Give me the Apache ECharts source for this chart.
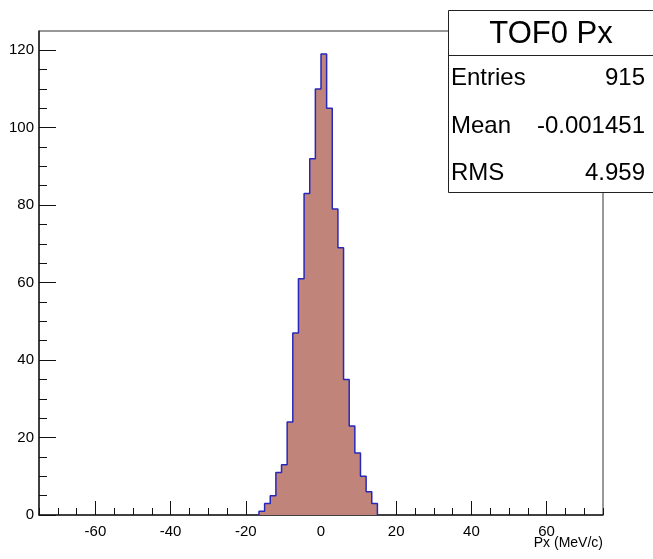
<!DOCTYPE html>
<html><head><meta charset="utf-8">
<script src="https://cdn.jsdelivr.net/npm/echarts@6/dist/echarts.min.js"></script>
<style>html,body{margin:0;padding:0;background:#fff}#c{width:653px;height:559px}</style>
</head><body><div id="c"></div>
<script>
// ---- data ----
const binLowEdge = -16.5;
const binWidth = 1.5;
const counts = [1, 3, 5, 11, 13, 24, 47, 61, 83, 92, 110, 119, 105, 79, 69, 35, 23, 16, 10, 6, 3];
const xRange = [-75, 75];
const yMax = 124.95;
const xMajorTicks = [-60, -40, -20, 0, 20, 40, 60];
const yMajorTicks = [0, 20, 40, 60, 80, 100, 120];
const minorStep = 5;
const xAxisTitle = 'Px (MeV/c)';
const statsTitle = 'TOF0 Px';
const statsLabels = ['Entries', 'Mean', 'RMS'];
const statsValues = ['915', '-0.001451', '4.959'];

// ---- build ----
function minorTicks(lo, hi, majors) {
  const out = [];
  for (let v = lo; v <= hi + 1e-9; v += minorStep) if (majors.indexOf(v) < 0) out.push(v);
  return out;
}
const xMinorTicks = minorTicks(xRange[0], xRange[1], xMajorTicks);
const yMinorTicks = minorTicks(0, yMax, yMajorTicks);

const pts = [[binLowEdge, 0]];
counts.forEach((c, i) => pts.push([binLowEdge + (i + 1) * binWidth, c]));
pts.push([binLowEdge + counts.length * binWidth, 0]);

const FONT = "'Liberation Sans', Arial, sans-serif";
const chart = echarts.init(document.getElementById('c'), null, {renderer: 'canvas'});

const box = {x: 448, y: 10, w: 210, h: 182, sep: 55};
const rowY = [78, 126, 173];
const graphics = [
  {type: 'rect', z: 100, shape: {x: box.x + 0.5, y: box.y + 0.5, width: box.w, height: box.h},
   style: {fill: '#fff', stroke: '#222', lineWidth: 1}},
  {type: 'line', z: 101, shape: {x1: box.x, y1: box.sep + 0.5, x2: box.x + box.w, y2: box.sep + 0.5},
   style: {stroke: '#222', lineWidth: 1}},
  {type: 'text', z: 102, style: {text: statsTitle, x: 551, y: 34, align: 'center', verticalAlign: 'middle',
   fontSize: 31, fontFamily: FONT, fill: '#000'}},
  {type: 'text', z: 10, style: {text: xAxisTitle, x: 603, y: 543, align: 'right', verticalAlign: 'middle',
   fontSize: 14, fontFamily: FONT, fill: '#000'}}
];
statsLabels.forEach((t, i) => {
  graphics.push({type: 'text', z: 102, style: {text: t, x: 451, y: rowY[i], align: 'left', verticalAlign: 'middle',
    fontSize: 24, fontFamily: FONT, fill: '#000'}});
  graphics.push({type: 'text', z: 102, style: {text: statsValues[i], x: 645, y: rowY[i], align: 'right', verticalAlign: 'middle',
    fontSize: 24, fontFamily: FONT, fill: '#000'}});
});

const axisLineStyle = {show: true, onZero: false, lineStyle: {color: '#222', width: 1.5}};
const noLine = {show: false, onZero: false};
chart.setOption({
  animation: false,
  backgroundColor: '#fff',
  grid: {left: 39, right: 50, top: 31, bottom: 44, show: true, borderColor: '#333', borderWidth: 1,
         containLabel: false, outerBoundsMode: 'none'},
  xAxis: [
    {type: 'value', min: xRange[0], max: xRange[1], position: 'bottom', axisLine: axisLineStyle,
     axisTick: {show: true, inside: true, length: 14, customValues: xMajorTicks, lineStyle: {color: '#111', width: 1}},
     axisLabel: {customValues: xMajorTicks, fontSize: 15, color: '#000', margin: 9, fontFamily: FONT},
     splitLine: {show: false}},
    {type: 'value', min: xRange[0], max: xRange[1], position: 'bottom', axisLine: noLine,
     axisTick: {show: true, inside: true, length: 7, customValues: xMinorTicks, lineStyle: {color: '#111', width: 1}},
     axisLabel: {show: false}, splitLine: {show: false}}
  ],
  yAxis: [
    {type: 'value', min: 0, max: yMax, position: 'left', axisLine: axisLineStyle,
     axisTick: {show: true, inside: true, length: 17, customValues: yMajorTicks, lineStyle: {color: '#111', width: 1}},
     axisLabel: {customValues: yMajorTicks, fontSize: 15, color: '#000', margin: 5, fontFamily: FONT},
     splitLine: {show: false}},
    {type: 'value', min: 0, max: yMax, position: 'left', axisLine: noLine,
     axisTick: {show: true, inside: true, length: 8, customValues: yMinorTicks, lineStyle: {color: '#111', width: 1}},
     axisLabel: {show: false}, splitLine: {show: false}}
  ],
  series: [{
    type: 'line', xAxisIndex: 0, yAxisIndex: 0, step: 'start', data: pts, symbol: 'none',
    lineStyle: {color: '#2828b8', width: 1.5},
    areaStyle: {color: '#c0847a', opacity: 1, origin: 'start'},
    z: 2
  }],
  graphic: graphics
});
</script></body></html>
